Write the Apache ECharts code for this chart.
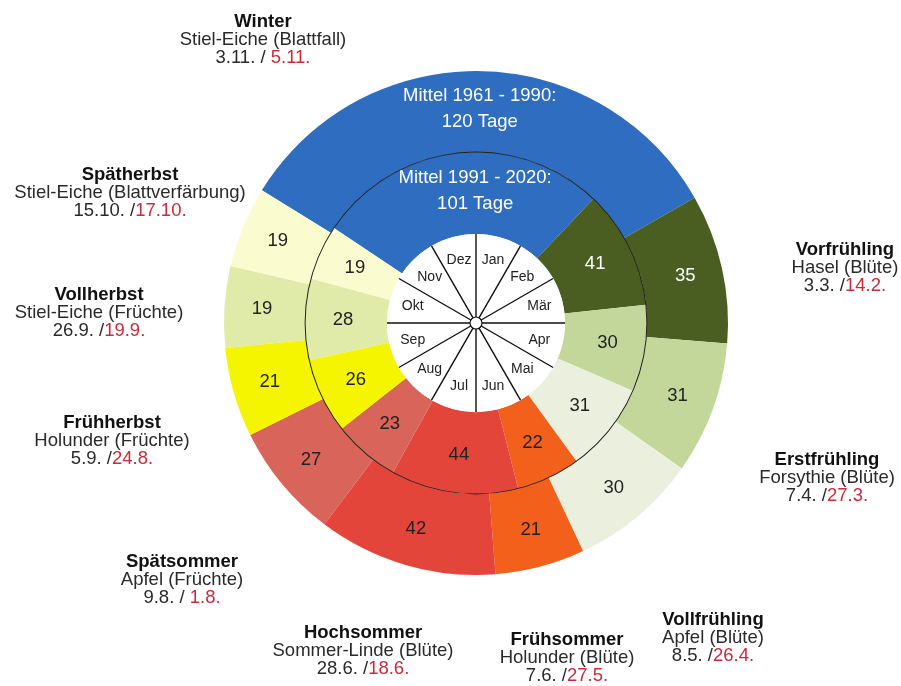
<!DOCTYPE html>
<html>
<head>
<meta charset="utf-8">
<title>Phänologische Uhr</title>
<script src="https://cdn.jsdelivr.net/npm/echarts@6/dist/echarts.min.js"></script>
<style>
    html, body { margin: 0; padding: 0; background: #fff; }
    #chart { width: 901px; height: 686px; }
</style>
</head>
<body>
<div id="chart"></div>
<script>
// Daten
var months = ['Jan', 'Feb', 'Mär', 'Apr', 'Mai', 'Jun', 'Jul', 'Aug', 'Sep', 'Okt', 'Nov', 'Dez'];
var phases = ['Winter', 'Vorfrühling', 'Erstfrühling', 'Vollfrühling', 'Frühsommer',
              'Hochsommer', 'Spätsommer', 'Frühherbst', 'Vollherbst', 'Spätherbst'];
var plants = ['Stiel-Eiche (Blattfall)', 'Hasel (Blüte)', 'Forsythie (Blüte)', 'Apfel (Blüte)',
              'Holunder (Blüte)', 'Sommer-Linde (Blüte)', 'Apfel (Früchte)', 'Holunder (Früchte)',
              'Stiel-Eiche (Früchte)', 'Stiel-Eiche (Blattverfärbung)'];
var startOld = ['3.11.', '3.3.', '7.4.', '8.5.', '7.6.', '28.6.', '9.8.', '5.9.', '26.9.', '15.10.'];
var startNew = ['5.11.', '14.2.', '27.3.', '26.4.', '27.5.', '18.6.', '1.8.', '24.8.', '19.9.', '17.10.'];
var dateSep = [' / ', ' /', ' /', ' /', ' /', ' /', ' / ', ' /', ' /', ' /'];
var daysOld = [120, 35, 31, 30, 21, 42, 27, 21, 19, 19];   // Mittel 1961 - 1990
var daysNew = [101, 41, 30, 31, 22, 44, 23, 26, 28, 19];   // Mittel 1991 - 2020
var periodOld = '1961 - 1990';
var periodNew = '1991 - 2020';

// Farben + Lage der Beschriftungen
var colors = ['#2f6dc0', '#4a5e22', '#c4d79b', '#ebf0de', '#f2601c',
              '#e4453b', '#d8645a', '#f6f500', '#e0eaa9', '#fafbce'];
var noteAt = [[263, 13], [845, 241], [827, 451], [713, 611], [567, 631],
              [363, 624], [182, 553], [112, 414], [99, 286], [130, 166]];

var center = [476, 323];
var font = 'Liberation Sans, Arial, sans-serif';
var monthLen = [31, 28, 31, 30, 31, 30, 31, 31, 30, 31, 30, 31];

function dayOfYear(s) {
    var p = s.split('.');
    var d = +p[0];
    for (var i = 0; i < +p[1] - 1; i++) d += monthLen[i];
    return d;
}
// 1. Januar oben, im Uhrzeigersinn
function startAngle(s) {
    return 90 - (dayOfYear(s) - 1) / 365 * 360;
}

function ringData(days) {
    return days.map(function (v, i) {
        return {
            name: phases[i],
            value: v,
            itemStyle: {color: colors[i]},
            label: {color: i < 2 ? '#fff' : '#222'}
        };
    });
}

function ringLabel(period) {
    return function (p) {
        if (p.dataIndex === 0) return 'Mittel ' + period + ':\n' + p.value + ' Tage';
        return p.value;
    };
}

var chart = echarts.init(document.getElementById('chart'));

var inner = ringData(daysNew);
inner[0].label.offset = [14, 0];

var rich = {
    b: {fontFamily: font, fontSize: 18.5, fontWeight: 'bold', color: '#111', lineHeight: 18},
    n: {fontFamily: font, fontSize: 18.5, fontWeight: 'normal', color: '#2a2a2a', lineHeight: 18},
    r: {fontFamily: font, fontSize: 18.5, fontWeight: 'normal', color: '#cc2a3a', lineHeight: 18}
};

var notes = phases.map(function (ph, i) {
    return {
        text: '{b|' + ph + '}\n{n|' + plants[i] + '}\n{n|' + startOld[i] + dateSep[i] + '}{r|' + startNew[i] + '}',
        left: noteAt[i][0],
        top: noteAt[i][1],
        textAlign: 'center',
        padding: 0,
        textStyle: {fontWeight: 'normal', rich: rich}
    };
});

var option = {
    animation: false,
    backgroundColor: '#fff',
    title: notes,
    polar: {center: center, radius: [6, 89]},
    angleAxis: {
        type: 'category',
        data: months,
        startAngle: 90,
        boundaryGap: true,
        z: 5,
        axisLine: {show: false},
        axisTick: {show: false},
        axisLabel: {show: false},
        splitLine: {show: true, lineStyle: {color: '#111', width: 1.4}}
    },
    radiusAxis: {show: false},
    series: [
        {
            name: periodNew,
            type: 'pie',
            center: center,
            radius: [89, 171],
            startAngle: startAngle(startNew[0]),
            avoidLabelOverlap: false,
            silent: true,
            label: {
                position: 'inside',
                fontFamily: font,
                fontSize: 18.5,
                lineHeight: 26,
                formatter: ringLabel(periodNew)
            },
            labelLine: {show: false},
            data: inner
        },
        {
            name: periodOld,
            type: 'pie',
            center: center,
            radius: [171, 252],
            startAngle: startAngle(startOld[0]),
            avoidLabelOverlap: false,
            silent: true,
            label: {
                position: 'inside',
                fontFamily: font,
                fontSize: 18.5,
                lineHeight: 26,
                formatter: ringLabel(periodOld)
            },
            labelLine: {show: false},
            data: ringData(daysOld)
        },
        {
            // Trennkreis zwischen den Ringen
            type: 'pie',
            center: center,
            radius: [170.4, 171.4],
            z: 3,
            silent: true,
            label: {show: false},
            data: [{value: 1, itemStyle: {color: '#222'}}]
        },
        {
            // weiße Scheibe
            type: 'pie',
            center: center,
            radius: [0, 37],
            silent: true,
            label: {show: false},
            data: [{value: 1, itemStyle: {color: '#fff'}}]
        },
        {
            // Monate
            type: 'pie',
            center: center,
            radius: [36, 89],
            startAngle: 90,
            silent: true,
            label: {
                position: 'inside',
                fontFamily: font,
                fontSize: 14,
                color: '#222'
            },
            labelLine: {show: false},
            itemStyle: {color: '#fff'},
            data: months.map(function (m) { return {name: m, value: 1}; })
        },
        {
            type: 'pie',
            center: center,
            radius: [0, 6],
            z: 6,
            silent: true,
            label: {show: false},
            data: [{value: 1, itemStyle: {color: '#fff', borderColor: '#111', borderWidth: 1.2}}]
        }
    ]
};

chart.setOption(option);
window.onresize = function () {
    chart.resize();
};
</script>
</body>
</html>
